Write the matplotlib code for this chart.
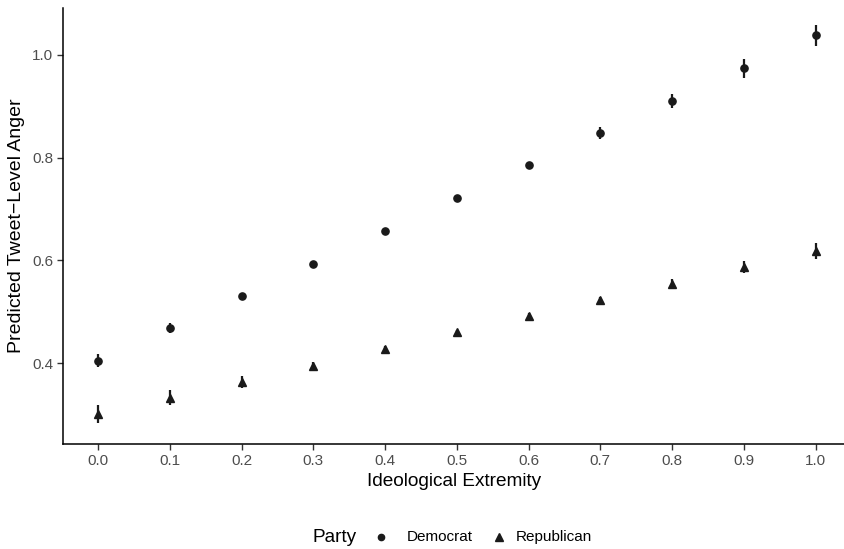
import matplotlib
matplotlib.use('Agg')
import matplotlib.pyplot as plt
from matplotlib.lines import Line2D

plt.rcParams['font.family'] = ['Liberation Sans', 'DejaVu Sans']

extremity = [0.0, 0.1, 0.2, 0.3, 0.4, 0.5, 0.6, 0.7, 0.8, 0.9, 1.0]
dem_fit = [0.405, 0.468, 0.531, 0.594, 0.658, 0.721, 0.785, 0.848, 0.911, 0.974, 1.038]
dem_err = [0.012, 0.010, 0.006, 0.005, 0.004, 0.004, 0.006, 0.011, 0.014, 0.018, 0.021]
rep_fit = [0.301, 0.333, 0.363, 0.395, 0.428, 0.460, 0.492, 0.523, 0.555, 0.587, 0.618]
rep_err = [0.018, 0.014, 0.012, 0.008, 0.006, 0.005, 0.005, 0.006, 0.008, 0.012, 0.016]
x_ticks = [0.0, 0.1, 0.2, 0.3, 0.4, 0.5, 0.6, 0.7, 0.8, 0.9, 1.0]
y_ticks = [0.4, 0.6, 0.8, 1.0]
parties = ['Democrat', 'Republican']

W, H = 845, 549
fig = plt.figure(figsize=(W / 100, H / 100), dpi=100)
ax = fig.add_axes([63 / W, 1 - 444 / H, (W - 63) / W, (444 - 8) / H])

ink = '#1a1a1a'
ax.errorbar(extremity, dem_fit, yerr=dem_err, fmt='o', color=ink,
            markersize=5.2, elinewidth=1.6, capsize=0)
ax.errorbar(extremity, rep_fit, yerr=rep_err, fmt='^', color=ink,
            markersize=6.2, elinewidth=1.6, capsize=0)

ax.set_xlim(-0.049, 1.041)
ax.set_ylim(0.2426, 1.0915)
ax.set_xticks(x_ticks)
ax.set_xticklabels(['%.1f' % t for t in x_ticks])
ax.set_yticks(y_ticks)
ax.set_yticklabels(['%.1f' % t for t in y_ticks])

for side in ['top', 'right']:
    ax.spines[side].set_visible(False)
for side in ['left', 'bottom']:
    ax.spines[side].set_linewidth(1.1)
    ax.spines[side].set_color('black')
ax.tick_params(axis='both', length=4, width=1.0, color='#333333',
               labelcolor='#4d4d4d', labelsize=11, pad=3)

ax.set_xlabel('Ideological Extremity', fontsize=13.7, color='black', labelpad=4)
ax.set_ylabel('Predicted Tweet\u2212Level Anger', fontsize=14, color='black', labelpad=5)

# legend along the bottom, laid out like ggplot's horizontal legend
ly = 1 - 537 / H
fig.text(312 / W, ly, 'Party', fontsize=13.7, va='center', ha='left')
keys = [('o', 4.5, 381, 407), ('^', 5.2, 499, 516)]
for (m, ms, kx, tx), name in zip(keys, parties):
    fig.add_artist(Line2D([kx / W], [ly], transform=fig.transFigure, marker=m,
                          linestyle='none', color=ink, markersize=ms))
    fig.text(tx / W, ly, name, fontsize=11, va='center', ha='left')

fig.savefig('out.png', dpi=100)
